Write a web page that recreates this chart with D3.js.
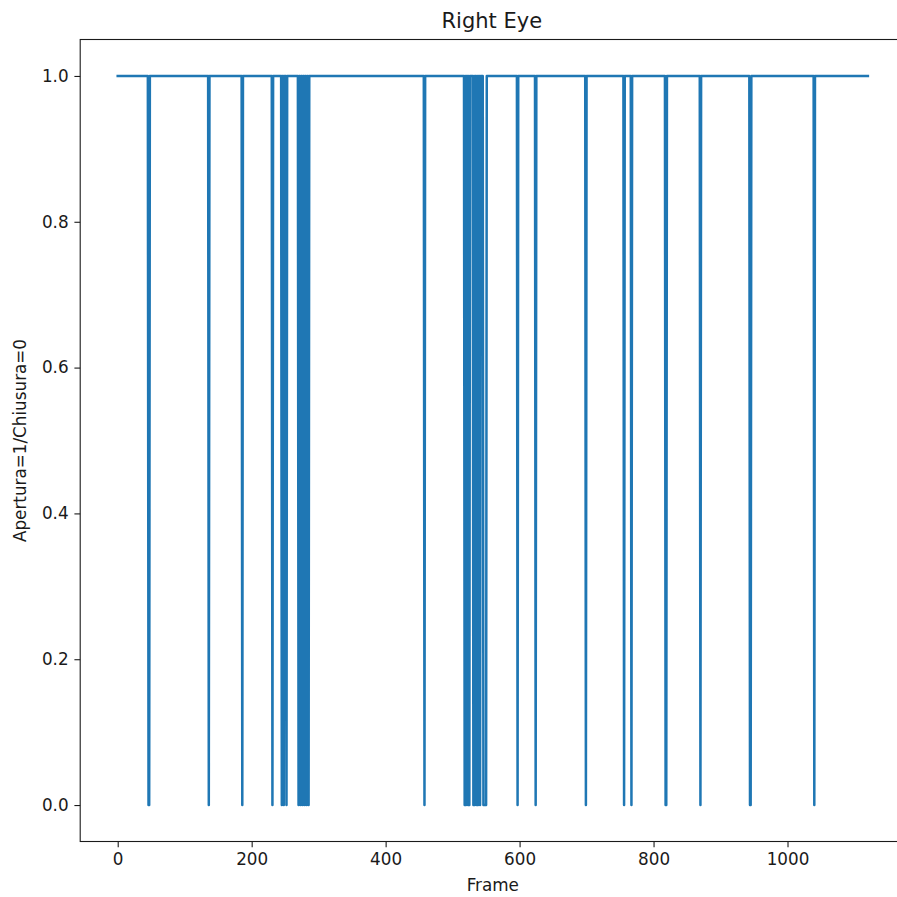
<!DOCTYPE html>
<html>
<head>
<meta charset="utf-8">
<script src="https://cdn.jsdelivr.net/npm/d3@7"></script>
<style>
  html, body { margin: 0; padding: 0; background: #fff; }
  svg { display: block; }
  text { font-family: "DejaVu Sans", sans-serif; fill: #1a1a1a; }
</style>
</head>
<body>
<svg id="chart" width="897" height="897"></svg>
<script>
// ---- data ----
const chartTitle = "Right Eye";
const xLabel = "Frame";
const yLabel = "Apertura=1/Chiusura=0";
const firstFrame = 0;
const lastFrame = 1120;
// frames where the eye is closed (value 0); every other frame is open (value 1)
const closedFrames = [
  46, 47, 136, 186, 231,
  245, 248, 252,
  270, 273, 276, 279, 282, 285,
  458,
  518, 520, 523, 525,
  531, 533, 536, 538, 541, 546, 547, 548, 549, 550,
  597, 624, 699, 756, 767, 818, 819, 870, 944, 945, 1040
];
const xTicks = [0, 200, 400, 600, 800, 1000];
const yTicks = [0.0, 0.2, 0.4, 0.6, 0.8, 1.0];

// ---- build series ----
const closedSet = new Set(closedFrames);
const frames = d3.range(firstFrame, lastFrame + 1);
const series = frames.map(f => ({ frame: f, value: closedSet.has(f) ? 0 : 1 }));

// ---- layout ----
const svg = d3.select("#chart");
const mLeft = 80.2, mTop = 39.5, mBottom = 841.5;
const pxPerFrame = 0.6698;
const span = lastFrame - firstFrame;
const xMin = firstFrame - 0.05 * span, xMax = lastFrame + 0.05 * span;
const mRight = mLeft + (xMax - xMin) * pxPerFrame;

const x = d3.scaleLinear().domain([xMin, xMax]).range([mLeft, mRight]);
const y = d3.scaleLinear().domain([-0.05, 1.05]).range([mBottom, mTop]);

const tickFont = 16.8;
const blue = "#1f77b4";

// line
const line = d3.line().x(d => x(d.frame)).y(d => y(d.value));
svg.append("path")
  .datum(series)
  .attr("d", line)
  .attr("fill", "none")
  .attr("stroke", blue)
  .attr("stroke-width", 2.5)
  .attr("stroke-linejoin", "round")
  .attr("stroke-linecap", "square");

// axes
const xAxis = d3.axisBottom(x).tickValues(xTicks).tickFormat(d3.format("d"))
  .tickSizeInner(5.8).tickSizeOuter(0).tickPadding(5.8);
const yAxis = d3.axisLeft(y).tickValues(yTicks).tickFormat(d3.format(".1f"))
  .tickSizeInner(5.8).tickSizeOuter(0).tickPadding(5.8);

const gx = svg.append("g").attr("transform", `translate(0,${mBottom})`).call(xAxis);
const gy = svg.append("g").attr("transform", `translate(${mLeft},0)`).call(yAxis);
[gx, gy].forEach(g => {
  g.select(".domain").remove();
  g.selectAll(".tick line").attr("stroke", "#1a1a1a").attr("stroke-width", 1.1);
  g.selectAll(".tick text").attr("font-size", tickFont).attr("fill", "#1a1a1a")
    .style("font-family", "'DejaVu Sans', sans-serif");
});

// spines
svg.append("rect")
  .attr("x", mLeft).attr("y", mTop)
  .attr("width", mRight - mLeft).attr("height", mBottom - mTop)
  .attr("fill", "none").attr("stroke", "#1a1a1a").attr("stroke-width", 1.1);

// labels
svg.append("text").attr("x", (mLeft + mRight) / 2 - 1).attr("y", 27.5)
  .attr("text-anchor", "middle").attr("font-size", 21).text(chartTitle);
svg.append("text").attr("x", (mLeft + mRight) / 2).attr("y", 891)
  .attr("text-anchor", "middle").attr("font-size", tickFont).text(xLabel);
svg.append("text")
  .attr("transform", `translate(26,${(mTop + mBottom) / 2}) rotate(-90)`)
  .attr("text-anchor", "middle").attr("font-size", tickFont).text(yLabel);
</script>
</body>
</html>
